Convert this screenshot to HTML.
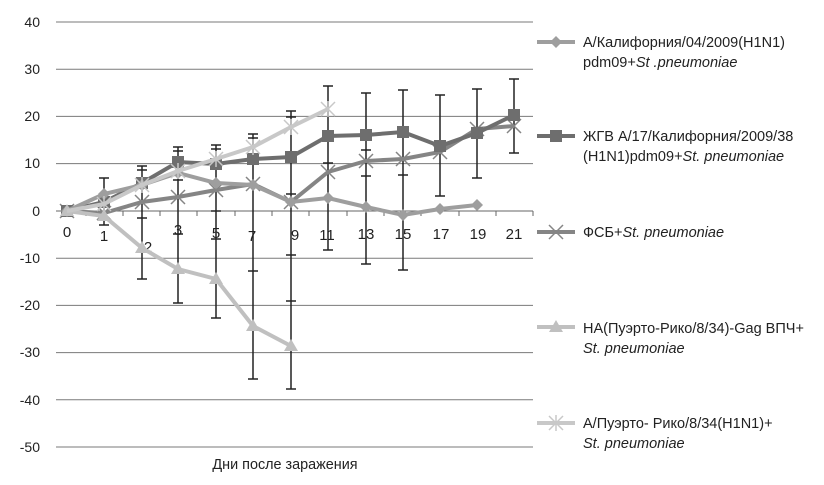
<!DOCTYPE html>
<html><head><meta charset="utf-8"><style>body{margin:0;background:#fff}svg{display:block;font-family:"Liberation Sans",sans-serif}</style></head><body>
<svg width="824" height="485" viewBox="0 0 824 485" xmlns="http://www.w3.org/2000/svg">
<g stroke="#7a7a7a" stroke-width="1">
<line x1="56" y1="22" x2="533" y2="22"/><line x1="56" y1="69.2" x2="533" y2="69.2"/><line x1="56" y1="116.4" x2="533" y2="116.4"/><line x1="56" y1="163.6" x2="533" y2="163.6"/>
<line x1="56" y1="258.2" x2="533" y2="258.2"/><line x1="56" y1="305.4" x2="533" y2="305.4"/><line x1="56" y1="352.6" x2="533" y2="352.6"/><line x1="56" y1="399.8" x2="533" y2="399.8"/><line x1="56" y1="447" x2="533" y2="447"/>
<line x1="56" y1="211" x2="533" y2="211" stroke="#666"/>
</g>
<g stroke="#666" stroke-width="1">
<line x1="86" y1="211" x2="86" y2="216"/><line x1="123" y1="211" x2="123" y2="216"/><line x1="160" y1="211" x2="160" y2="216"/><line x1="197" y1="211" x2="197" y2="216"/><line x1="235" y1="211" x2="235" y2="216"/><line x1="272" y1="211" x2="272" y2="216"/><line x1="309" y1="211" x2="309" y2="216"/><line x1="347" y1="211" x2="347" y2="216"/><line x1="384" y1="211" x2="384" y2="216"/><line x1="421" y1="211" x2="421" y2="216"/><line x1="459" y1="211" x2="459" y2="216"/><line x1="496" y1="211" x2="496" y2="216"/><line x1="533" y1="211" x2="533" y2="216"/>
</g>
<g font-size="14" fill="#222" text-anchor="end">
<text x="40" y="27">40</text><text x="40" y="74">30</text><text x="40" y="121">20</text><text x="40" y="168">10</text><text x="40" y="216">0</text><text x="40" y="263">-10</text><text x="40" y="310">-20</text><text x="40" y="357">-30</text><text x="40" y="405">-40</text><text x="40" y="452">-50</text>
</g>
<g font-size="15" fill="#222" text-anchor="middle">
<text x="67" y="237">0</text><text x="104" y="241">1</text><text x="148" y="252">2</text><text x="178" y="235">3</text><text x="216" y="238">5</text><text x="252" y="241">7</text><text x="295" y="240">9</text><text x="327" y="240">11</text><text x="366" y="239">13</text><text x="403" y="239">15</text><text x="441" y="239">17</text><text x="478" y="239">19</text><text x="514" y="239">21</text>
<text x="285" y="469" font-size="14.4">Дни после заражения</text>
</g>
<g stroke="#222" stroke-width="1.5">
<line x1="104" y1="178" x2="104" y2="225"/><line x1="99" y1="178" x2="109" y2="178"/><line x1="99" y1="225" x2="109" y2="225"/>
<line x1="142" y1="166" x2="142" y2="279"/><line x1="137" y1="166" x2="147" y2="166"/><line x1="137" y1="170" x2="147" y2="170"/><line x1="137" y1="279" x2="147" y2="279"/><line x1="137" y1="218" x2="147" y2="218"/>
<line x1="178" y1="147" x2="178" y2="303"/><line x1="173" y1="147" x2="183" y2="147"/><line x1="173" y1="151" x2="183" y2="151"/><line x1="173" y1="180" x2="183" y2="180"/><line x1="173" y1="234" x2="183" y2="234"/><line x1="173" y1="303" x2="183" y2="303"/>
<line x1="216" y1="145" x2="216" y2="318"/><line x1="211" y1="145" x2="221" y2="145"/><line x1="211" y1="149" x2="221" y2="149"/><line x1="211" y1="211" x2="221" y2="211"/><line x1="211" y1="239" x2="221" y2="239"/><line x1="211" y1="318" x2="221" y2="318"/>
<line x1="253" y1="134" x2="253" y2="379"/><line x1="248" y1="134" x2="258" y2="134"/><line x1="248" y1="138" x2="258" y2="138"/><line x1="248" y1="271" x2="258" y2="271"/><line x1="248" y1="379" x2="258" y2="379"/>
<line x1="291" y1="111" x2="291" y2="389"/><line x1="286" y1="111" x2="296" y2="111"/><line x1="286" y1="117" x2="296" y2="117"/><line x1="286" y1="194" x2="296" y2="194"/><line x1="286" y1="255" x2="296" y2="255"/><line x1="286" y1="301" x2="296" y2="301"/><line x1="286" y1="389" x2="296" y2="389"/>
<line x1="328" y1="86" x2="328" y2="250"/><line x1="323" y1="86" x2="333" y2="86"/><line x1="323" y1="163" x2="333" y2="163"/><line x1="323" y1="250" x2="333" y2="250"/>
<line x1="366" y1="93" x2="366" y2="264"/><line x1="361" y1="93" x2="371" y2="93"/><line x1="361" y1="150" x2="371" y2="150"/><line x1="361" y1="176" x2="371" y2="176"/><line x1="361" y1="264" x2="371" y2="264"/>
<line x1="403" y1="90" x2="403" y2="270"/><line x1="398" y1="90" x2="408" y2="90"/><line x1="398" y1="175" x2="408" y2="175"/><line x1="398" y1="270" x2="408" y2="270"/>
<line x1="440" y1="95" x2="440" y2="196"/><line x1="435" y1="95" x2="445" y2="95"/><line x1="435" y1="196" x2="445" y2="196"/>
<line x1="477" y1="89" x2="477" y2="178"/><line x1="472" y1="89" x2="482" y2="89"/><line x1="472" y1="178" x2="482" y2="178"/>
<line x1="514" y1="79" x2="514" y2="153"/><line x1="509" y1="79" x2="519" y2="79"/><line x1="509" y1="153" x2="519" y2="153"/>
</g>
<defs>
<path id="dia" d="M0,-6 L6,0 L0,6 L-6,0Z"/>
<path id="x" d="M-7,-7 L7,7 M-7,7 L7,-7" stroke-width="1.5"/>
<path id="st" d="M-7,-7 L7,7 M-7,7 L7,-7 M0,-8 L0,8" stroke-width="1.5"/>
</defs>
<g stroke="#858585" stroke-width="4" fill="none">
<polyline points="67,211 104,213 142,202 178,197 216,190 253,184 291,202 328,172 366,161 403,159 440,152 477,129 514,126"/>
<g stroke-width="1.5"><use href="#x" x="67" y="211"/><use href="#x" x="104" y="213"/><use href="#x" x="142" y="202"/><use href="#x" x="178" y="197"/><use href="#x" x="216" y="190"/><use href="#x" x="253" y="184"/><use href="#x" x="291" y="202"/><use href="#x" x="328" y="172"/><use href="#x" x="366" y="161"/><use href="#x" x="403" y="159"/><use href="#x" x="440" y="152"/><use href="#x" x="477" y="129"/><use href="#x" x="514" y="126"/></g>
</g>
<g stroke="#6e6e6e" stroke-width="4" fill="#6e6e6e">
<polyline fill="none" points="67,211 104,202 142,183 178,162 216,164 253,159 291,157 328,136 366,135 403,132 440,146 477,133 514,115"/>
<g stroke="none"><rect x="61" y="205" width="12" height="12"/><rect x="98" y="196" width="12" height="12"/><rect x="136" y="177" width="12" height="12"/><rect x="172" y="156" width="12" height="12"/><rect x="210" y="158" width="12" height="12"/><rect x="247" y="153" width="12" height="12"/><rect x="285" y="151" width="12" height="12"/><rect x="322" y="130" width="12" height="12"/><rect x="360" y="129" width="12" height="12"/><rect x="397" y="126" width="12" height="12"/><rect x="434" y="140" width="12" height="12"/><rect x="471" y="127" width="12" height="12"/><rect x="508" y="109" width="12" height="12"/></g>
</g>
<g stroke="#9e9e9e" stroke-width="4" fill="#9e9e9e">
<polyline fill="none" points="67,211 104,194 142,185 178,173 216,183 253,185 291,202 328,198 366,207 403,215 440,209 477,205"/>
<g stroke="none"><use href="#dia" x="67" y="211"/><use href="#dia" x="104" y="194"/><use href="#dia" x="142" y="185"/><use href="#dia" x="178" y="173"/><use href="#dia" x="216" y="183"/><use href="#dia" x="253" y="185"/><use href="#dia" x="291" y="202"/><use href="#dia" x="328" y="198"/><use href="#dia" x="366" y="207"/><use href="#dia" x="403" y="215"/><use href="#dia" x="440" y="209"/><use href="#dia" x="477" y="205"/></g>
</g>
<g stroke="#c0c0c0" stroke-width="4" fill="#c0c0c0">
<polyline fill="none" points="67,211 104,216 142,248 178,269 216,279 253,326 291,346"/>
<g stroke="none"><path d="M67,204 l7,12 h-14z"/><path d="M104,209 l7,12 h-14z"/><path d="M142,241 l7,12 h-14z"/><path d="M178,262 l7,12 h-14z"/><path d="M216,272 l7,12 h-14z"/><path d="M253,319 l7,12 h-14z"/><path d="M291,339 l7,12 h-14z"/></g>
</g>
<g stroke="#c8c8c8" stroke-width="4" fill="none">
<polyline points="67,211 104,204 142,185 178,171 216,159 253,147 291,127 328,109"/>
<g stroke-width="1.5"><use href="#st" x="104" y="204"/><use href="#st" x="142" y="185"/><use href="#st" x="178" y="171"/><use href="#st" x="216" y="159"/><use href="#st" x="253" y="147"/><use href="#st" x="291" y="127"/><use href="#st" x="328" y="109"/></g>
</g>
<g stroke-width="4">
<line x1="537" y1="42" x2="575" y2="42" stroke="#9e9e9e"/><use href="#dia" x="556" y="42" fill="#9e9e9e"/>
<line x1="537" y1="136" x2="575" y2="136" stroke="#6e6e6e"/><rect x="550" y="130" width="12" height="12" fill="#6e6e6e"/>
<line x1="537" y1="232" x2="575" y2="232" stroke="#858585"/><use href="#x" x="556" y="232" stroke="#858585"/>
<line x1="537" y1="327" x2="575" y2="327" stroke="#c0c0c0"/><path d="M556,320 l7,12 h-14z" fill="#c0c0c0"/>
<line x1="537" y1="423" x2="575" y2="423" stroke="#c8c8c8"/><use href="#st" x="556" y="423" stroke="#c8c8c8"/>
</g>
<g font-size="14.5" fill="#222">
<text x="583" y="47">А/Калифорния/04/2009(H1N1)</text>
<text x="583" y="67">pdm09+<tspan font-style="italic">St .pneumoniae</tspan></text>
<text x="583" y="141">ЖГВ А/17/Калифорния/2009/38</text>
<text x="583" y="161">(H1N1)pdm09+<tspan font-style="italic">St. pneumoniae</tspan></text>
<text x="583" y="237">ФСБ+<tspan font-style="italic">St. pneumoniae</tspan></text>
<text x="583" y="333">НА(Пуэрто-Рико/8/34)-Gag ВПЧ+</text>
<text x="583" y="353" font-style="italic">St. pneumoniae</text>
<text x="583" y="428">А/Пуэрто- Рико/8/34(H1N1)+</text>
<text x="583" y="448" font-style="italic">St. pneumoniae</text>
</g>
</svg>
</body></html>
